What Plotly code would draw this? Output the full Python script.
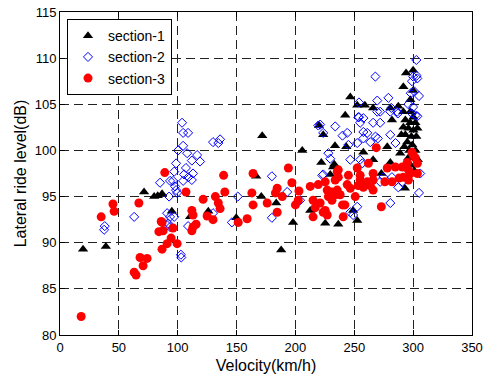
import plotly.graph_objects as go

# ---------------- data ----------------
s1_v = [19.6, 39, 71.4, 80, 83, 86.7, 95, 110.5, 126, 149.7, 166.7, 171, 171.8, 183.7,
        187.9, 198, 205.8, 212.6, 220, 222, 223.6, 225.3, 229.6, 233, 233.6, 236.4,
        242.3, 243.2, 246.6, 249, 252.5, 252.5, 257.7, 259, 266, 266, 273, 278, 280.6,
        280.6, 282, 287.4, 289, 290, 291.7, 293, 294, 297.6, 300, 300,
        291.7, 297.6, 300.2, 293.4, 297.6, 301.9, 291.7, 296, 300.2, 303.6, 293.4,
        298.5, 302.7, 295, 299.3, 292.5, 301.9, 296.8, 298, 301, 296, 304, 232]
s1_db = [89.3, 89.6, 95.5, 95.0, 95.1, 95.3, 93.4, 92.8, 93.4, 92.7, 97.2, 95.0, 101.6, 94.3,
         89.2, 92.2, 100.0, 93.5, 102.7, 98.7, 101.7, 92.1, 97.4, 98.5, 100.5, 92.0,
         103.8, 100.4, 105.8, 93.5, 92.4, 104.9, 99.8, 104.9, 99.0, 104.6, 97.5, 100.4, 98.7,
         104.6, 103.3, 104.8, 99.7, 101.7, 106.9, 95.9, 108.4, 105.5, 108.7, 106.5,
         104.2, 104.2, 103.6, 103.3, 103.0, 103.0, 102.5, 102.4, 102.2, 102.4, 101.7,
         101.5, 101.5, 100.9, 100.6, 100.4, 100.0, 100.0, 98.4, 97.8, 99.2, 99.0, 98.2]

s2_v = [38, 37.5, 63, 85, 91, 91, 91.8, 92.7, 93.5, 93.5, 93.5, 96, 97, 97, 97.8, 98.6,
        98.6, 99.5, 100.3, 102.7, 103, 103.7, 104.6, 104.6, 104.6, 105.4, 107, 108, 108.8,
        108.8, 109, 112, 112, 113, 116.5, 119, 130, 130, 134.5, 136, 146, 151, 180, 180,
        193, 204, 219.4, 221, 223.6, 222.8, 223.6, 228, 229.6, 233.8, 240, 244, 245,
        246.6, 246.6, 249, 252.5, 252.5, 253.4, 254, 254, 255, 255, 256.8, 257.7, 257.7,
        257.7, 261, 263.6, 266, 267.9, 268, 269.5, 269.5, 270, 272, 272, 272, 274.7, 279,
        280.6, 280.6, 280.6, 281.5, 282, 285, 286.5, 287, 287.4, 290.8, 296, 299, 299,
        300, 300, 301, 302, 302.7, 303, 303.5, 303.6, 305, 305, 306, 298]
s2_db = [91.8, 91.4, 92.8, 96.5, 93.2, 91.9, 92.1, 95.0, 96.7, 92.8, 91.7, 96.7, 97.7, 92.8,
         96.1, 98.6, 95.7, 95.4, 100.0, 88.7, 88.4, 103.0, 101.9, 100.5, 96.7, 97.4, 98.1,
         99.7, 101.9, 91.8, 97.1, 98.9, 96.8, 97.5, 99.5, 98.8, 100.9, 93.2, 100.8, 101.2,
         92.2, 95.0, 97.2, 92.7, 95.5, 94.6, 102.7, 102.8, 101.9, 97.3, 97.4, 99.7, 99.1,
         102.6, 101.6, 101.9, 100.6, 99.0, 93.3, 93.0, 100.8, 93.9, 103.6, 103.6, 105.2,
         103.0, 99.0, 98.6, 103.5, 102.0, 101.3, 101.9, 100.9, 103.0, 108.0, 101.5, 104.2,
         105.4, 101.3, 103.0, 104.2, 96.6, 97.1, 105.7, 104.2, 101.7, 94.3, 104.6, 97.1,
         100.8, 104.2, 104.0, 96.0, 96.6, 105.0, 107.5, 104.0, 108.0, 104.7, 106.4, 103.8,
         109.8, 108.1, 107.8, 103.7, 105.9, 95.4, 97.5, 106.2]

s3_v = [18, 35, 45, 46, 63, 64.6, 67, 68, 70.6, 74, 84, 86, 86.7, 86.7, 87.6, 89, 91,
        94.4, 96, 99.5, 107, 112, 112, 113, 113, 115.6, 121.6, 125, 130, 132, 134.5, 136,
        139, 140, 151.4, 159, 163, 164, 164, 176, 183, 184.5, 184.5, 188.8, 194, 197, 200,
        202.4, 203, 212.6, 215, 215, 216.8, 219.4, 221, 223.6, 225.3, 225.3, 227, 227, 228,
        229.6, 231, 231, 233.8, 233.8, 235.5, 235.5, 236.4, 236.4, 238, 240, 240.6, 242,
        244, 245, 246.6, 250.8, 252.5, 253.4, 255, 255, 257.7, 261, 262, 263.6, 266, 266,
        266, 268.7, 273, 276, 278, 282, 284.9, 288, 290.8, 291.7, 295, 296, 296, 297.6,
        299, 300, 301.9, 303.6, 303.6]
s3_db = [82.0, 92.8, 94.2, 93.4, 86.8, 86.5, 94.3, 88.4, 87.5, 88.3, 91.2, 92.3, 92.2, 89.3,
         91.3, 97.6, 89.9, 90.5, 91.6, 89.9, 95.5, 93.5, 91.3, 93.0, 91.7, 92.0, 94.7, 92.9,
         92.5, 95.0, 94.3, 93.7, 97.3, 95.5, 92.2, 92.6, 95.4, 97.5, 94.1, 94.3, 95.4, 95.9,
         93.3, 95.0, 98.1, 96.5, 94.1, 94.6, 95.6, 96.1, 94.6, 92.8, 93.8, 96.3, 94.3, 93.3,
         96.6, 93.5, 93.0, 95.7, 95.0, 95.0, 94.6, 95.5, 95.2, 96.8, 95.7, 97.7, 97.1, 97.9,
         95.2, 94.1, 92.8, 94.1, 96.3, 97.3, 95.9, 95.0, 98.1, 96.2, 97.3, 96.8, 96.0, 96.6,
         98.6, 96.2, 97.5, 96.8, 95.7, 100.3, 93.9, 96.6, 98.1, 96.6, 98.2, 97.0, 98.2, 97.1,
         98.7, 97.9, 96.8, 97.5, 99.8, 99.5, 99.2, 98.6, 97.5]

x_ticks = [0, 50, 100, 150, 200, 250, 300, 350]
y_ticks = [80, 85, 90, 95, 100, 105, 110, 115]

FONT = "Liberation Sans, Arial, sans-serif"

fig = go.Figure()
fig.add_trace(go.Scatter(x=s1_v, y=s1_db, mode="markers", name="section-1",
                         marker=dict(symbol="triangle-up", size=9, color="black")))
fig.add_trace(go.Scatter(x=s2_v, y=s2_db, mode="markers", name="section-2",
                         marker=dict(symbol="diamond-open", size=7, color="#0000ff",
                                     line=dict(width=1, color="#0000ff"))))
fig.add_trace(go.Scatter(x=s3_v, y=s3_db, mode="markers", name="section-3",
                         marker=dict(symbol="circle", size=9, color="#ff0000")))

axis_common = dict(
    showline=True, linecolor="black", linewidth=1, mirror="ticks",
    ticks="inside", ticklen=5, tickcolor="black", automargin=False,
    ticklabeloverflow="allow",
    showgrid=True, gridcolor="#222222", gridwidth=1, griddash="9px,5px",
    zeroline=False, tickfont=dict(family=FONT, size=13, color="black"),
)

fig.update_xaxes(range=[0, 350], tickvals=x_ticks,
                 title=dict(text="Velocity(km/h)", font=dict(family=FONT, size=16, color="black"),
                            standoff=6),
                 **axis_common)
fig.update_yaxes(range=[80, 115], tickvals=y_ticks,
                 title=dict(text="Lateral ride level(dB)", font=dict(family=FONT, size=16, color="black"),
                            standoff=4),
                 **axis_common)

fig.update_layout(
    width=484, height=379,
    margin=dict(l=60, r=12, t=12, b=44),
    paper_bgcolor="white", plot_bgcolor="white",
    font=dict(family=FONT, color="black"),
    legend=dict(x=0.017, y=0.978, xanchor="left", yanchor="top",
                bgcolor="white", bordercolor="black", borderwidth=1,
                font=dict(family=FONT, size=14, color="black"),
                itemwidth=30, tracegroupgap=0),
)

# remove the browser's default 8px body margin so the figure fills the window exactly
fig.write_html("out.html",
               config={"displayModeBar": False},
               post_script="document.body.style.margin='0px';document.body.style.overflow='hidden';")
